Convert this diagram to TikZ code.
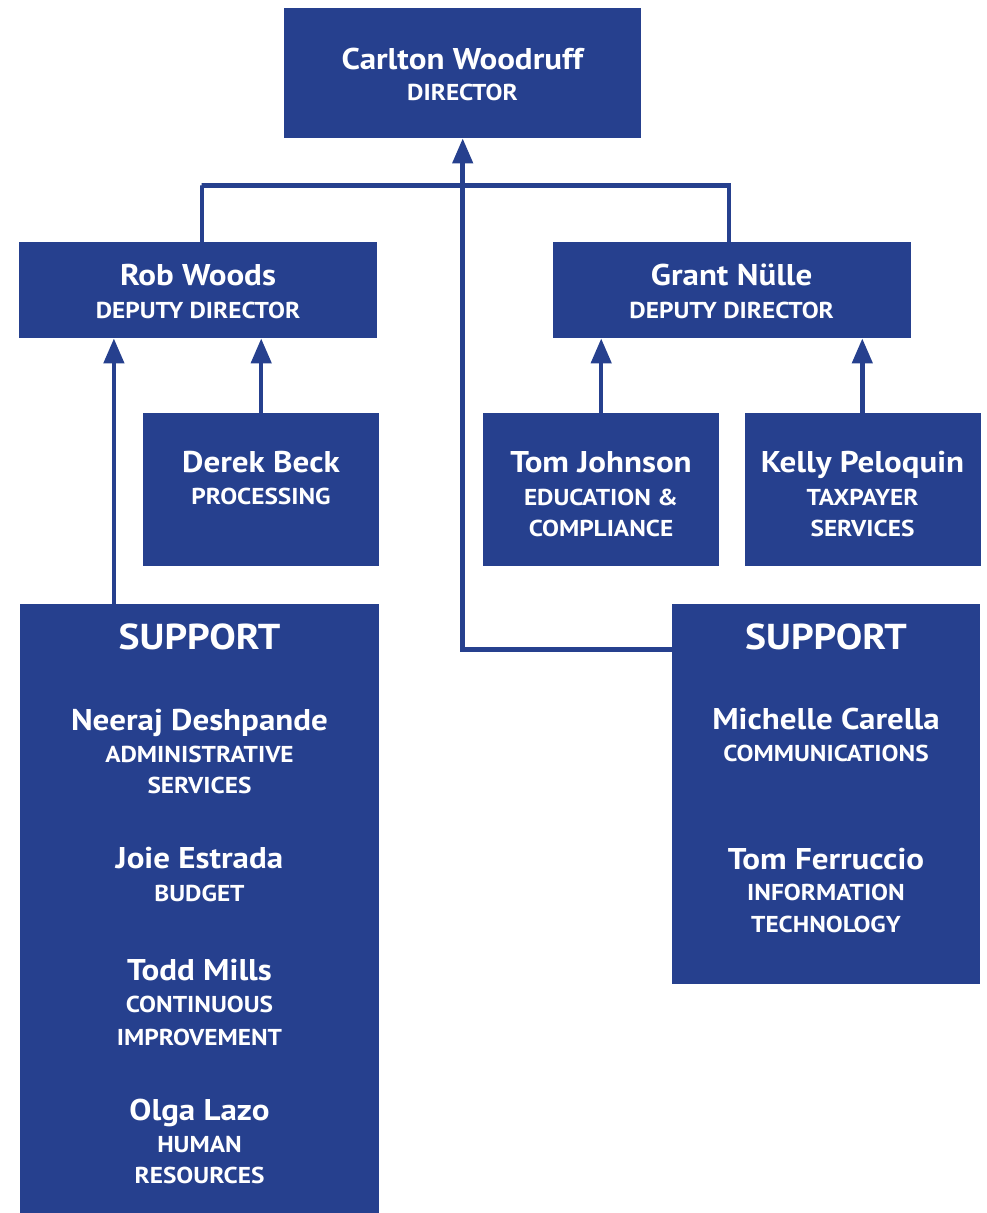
\documentclass[tikz,border=0pt]{standalone}
\usepackage{fontspec}
\setmainfont{PT Sans}[FakeStretch=1.1]
\usetikzlibrary{arrows.meta}
\definecolor{navy}{RGB}{38,64,142}
\begin{document}
\begin{tikzpicture}[x=1pt,y=-1pt,
  box/.style={fill=navy, draw=none, inner sep=0pt, anchor=north west},
  nm/.style={text=white, font=\fontsize{30}{32}\selectfont\bfseries, anchor=base, inner sep=0pt},
  sub/.style={text=white, font=\fontsize{23}{25}\selectfont\bfseries, anchor=base, inner sep=0pt},
  supt/.style={text=white, font=\fontsize{36}{38}\selectfont\bfseries, anchor=base, inner sep=0pt},
  link/.style={draw=navy, line width=4.5pt},
  arr/.style={link, -{Triangle[width=20pt,length=25pt]}}]
\useasboundingbox (0,0) rectangle (986,1213);

% boxes
\node[box, minimum width=357pt, minimum height=130pt] (dir) at (284,8) {};
\node[box, minimum width=358pt, minimum height=96pt] (rob) at (19,242) {};
\node[box, minimum width=358pt, minimum height=96pt] (grant) at (553,242) {};
\node[box, minimum width=236pt, minimum height=153pt] (derek) at (143,413) {};
\node[box, minimum width=236pt, minimum height=153pt] (tomj) at (483,413) {};
\node[box, minimum width=236pt, minimum height=153pt] (kelly) at (745,413) {};
\node[box, minimum width=359pt, minimum height=609pt] (supL) at (20,604) {};
\node[box, minimum width=308pt, minimum height=380pt] (supR) at (672,604) {};

% connectors
\draw[link] ([xshift=3.7pt]rob.north) |- (201.7,185.6) -| ([xshift=-3pt]grant.north);
\draw[arr] ([yshift=-45.7pt]supR.north west) -| (dir.south);
\draw[arr] (derek.north) -- (derek.north |- rob.south);
\draw[arr] ([xshift=-85.8pt]supL.north) coordinate (sl) -- (sl |- rob.south);
\draw[arr] (tomj.north) -- (tomj.north |- grant.south);
\draw[arr] ([xshift=-0.9pt]kelly.north) coordinate (kl) -- (kl |- grant.south);

% texts
\node[nm] (t1) at (462.5,69) {Carlton Woodruff};
\node[sub] (t2) at (462.5,100.7) {DIRECTOR};
\node[nm] (t3) at (198,285.7) {Rob Woods};
\node[sub] (t4) at (198,318) {DEPUTY DIRECTOR};
\node[nm] (t5) at (731.7,285.7) {Grant Nülle};
\node[sub] (t6) at (731.7,318) {DEPUTY DIRECTOR};
\node[nm] (t7) at (261,472.7) {Derek Beck};
\node[sub] (t8) at (261,504.3) {PROCESSING};
\node[nm] (t9) at (601,472.7) {Tom Johnson};
\node[sub] (t10) at (601,505) {EDUCATION \&};
\node[sub] (t11) at (601,536.7) {COMPLIANCE};
\node[nm] (t12) at (862.5,472.7) {Kelly Peloquin};
\node[sub] (t13) at (862.5,505) {TAXPAYER};
\node[sub] (t14) at (862.5,536.7) {SERVICES};

\node[supt] (t15) at (199.5,649) {SUPPORT};
\node[nm] (t16) at (199.5,730) {Neeraj Deshpande};
\node[sub] (t17) at (199.5,762.7) {ADMINISTRATIVE};
\node[sub] (t18) at (199.5,793.3) {SERVICES};
\node[nm] (t19) at (199.5,868.3) {Joie Estrada};
\node[sub] (t20) at (199.5,901) {BUDGET};
\node[nm] (t21) at (199.5,980.7) {Todd Mills};
\node[sub] (t22) at (199.5,1012.7) {CONTINUOUS};
\node[sub] (t23) at (199.5,1045) {IMPROVEMENT};
\node[nm] (t24) at (199.5,1120) {Olga Lazo};
\node[sub] (t25) at (199.5,1152.3) {HUMAN};
\node[sub] (t26) at (199.5,1183.5) {RESOURCES};

\node[supt] (t27) at (826,649) {SUPPORT};
\node[nm] (t28) at (826,729) {Michelle Carella};
\node[sub] (t29) at (826,761.7) {COMMUNICATIONS};
\node[nm] (t30) at (826,869.3) {Tom Ferruccio};
\node[sub] (t31) at (826,900.7) {INFORMATION};
\node[sub] (t32) at (826,932.3) {TECHNOLOGY};
\end{tikzpicture}
\end{document}
